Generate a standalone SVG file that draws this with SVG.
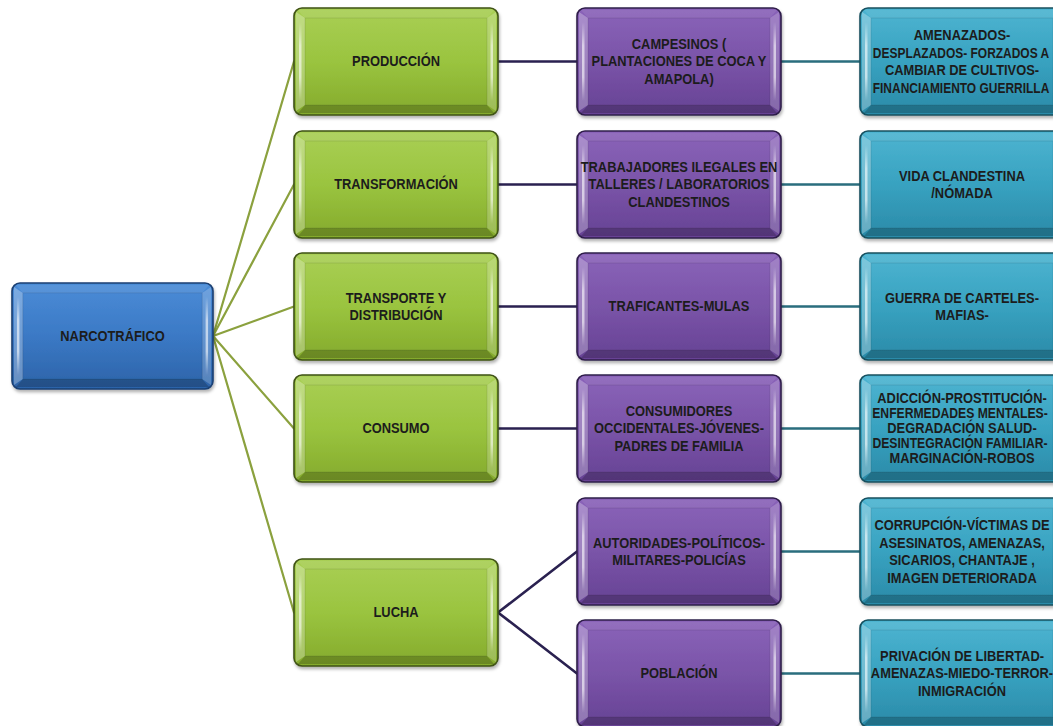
<svg xmlns="http://www.w3.org/2000/svg" xmlns:xlink="http://www.w3.org/1999/xlink" width="1053" height="726" viewBox="0 0 1053 726">
  <defs>
    <linearGradient id="gGreen" x1="0" y1="0" x2="0" y2="1">
      <stop offset="0" stop-color="#a9cf55"/>
      <stop offset="0.5" stop-color="#9ac43f"/>
      <stop offset="1" stop-color="#84aa2c"/>
    </linearGradient>
    <linearGradient id="gPurple" x1="0" y1="0" x2="0" y2="1">
      <stop offset="0" stop-color="#8a63b9"/>
      <stop offset="0.5" stop-color="#7a54a8"/>
      <stop offset="1" stop-color="#664294"/>
    </linearGradient>
    <linearGradient id="gCyan" x1="0" y1="0" x2="0" y2="1">
      <stop offset="0" stop-color="#4db4d1"/>
      <stop offset="0.5" stop-color="#38a2c0"/>
      <stop offset="1" stop-color="#2a8aa8"/>
    </linearGradient>
    <linearGradient id="gBlue" x1="0" y1="0" x2="0" y2="1">
      <stop offset="0" stop-color="#4b8cd7"/>
      <stop offset="0.5" stop-color="#3b79c5"/>
      <stop offset="1" stop-color="#2c63a8"/>
    </linearGradient>
    <linearGradient id="gHi" x1="0" y1="0" x2="0" y2="1">
      <stop offset="0" stop-color="#fff" stop-opacity="0"/>
      <stop offset="0.3" stop-color="#fff" stop-opacity="0.6"/>
      <stop offset="0.7" stop-color="#fff" stop-opacity="0.6"/>
      <stop offset="1" stop-color="#fff" stop-opacity="0"/>
    </linearGradient>
    <filter id="shadow" x="-10%" y="-10%" width="120%" height="130%">
      <feDropShadow dx="1" dy="2.5" stdDeviation="1.6" flood-color="#000" flood-opacity="0.3"/>
    </filter>
    <symbol id="bevel" viewBox="0 0 204 107" preserveAspectRatio="none">
      <path d="M2,4 L11,10 L11,97 L2,103 Z" fill="#fff" fill-opacity="0.28"/>
      <path d="M202,4 L193,10 L193,97 L202,103 Z" fill="#fff" fill-opacity="0.2"/>
      <path d="M4,2 L200,2 L193,10 L11,10 Z" fill="#fff" fill-opacity="0.08"/>
      <path d="M4,105 L200,105 L193,97 L11,97 Z" fill="#000" fill-opacity="0.2"/>
      <rect x="11" y="10" width="182" height="87" fill="none" stroke="#000" stroke-opacity="0.12" stroke-width="0.8"/>
      <rect x="5" y="14" width="2.5" height="79" fill="url(#gHi)"/>
      <rect x="196.5" y="14" width="2.5" height="79" fill="url(#gHi)"/>
    </symbol>
  </defs>
  <style>
    .box { stroke-width: 1.6; filter: url(#shadow); }
    .blue .box { fill: url(#gBlue); stroke: #1b3f72; }
    .green .box { fill: url(#gGreen); stroke: #3f5216; }
    .purple .box { fill: url(#gPurple); stroke: #2f1f4a; }
    .cyan .box { fill: url(#gCyan); stroke: #17505e; }
    .t { font-family: "Liberation Sans", Arial, sans-serif; font-weight: bold; font-size: 14px; fill: #1c1c1c; text-anchor: middle; }
    .c-root { stroke: #8ba13e; stroke-width: 2.2; }
    .c-mid { stroke: #2a2150; stroke-width: 2.6; }
    .c-end { stroke: #2a6e7e; stroke-width: 2.6; }
  </style>
  <rect width="1053" height="726" fill="#ffffff"/>

  <g id="connectors" fill="none" stroke-linecap="round">
    <line class="c-root" x1="213" y1="336" x2="294" y2="61.5"/>
    <line class="c-root" x1="213" y1="336" x2="294" y2="184.5"/>
    <line class="c-root" x1="213" y1="336" x2="294" y2="306.5"/>
    <line class="c-root" x1="213" y1="336" x2="294" y2="428.5"/>
    <line class="c-root" x1="213" y1="336" x2="294" y2="612.5"/>
    <line class="c-mid" x1="498" y1="61.5" x2="577" y2="61.5"/>
    <line class="c-mid" x1="498" y1="184.5" x2="577" y2="184.5"/>
    <line class="c-mid" x1="498" y1="306.5" x2="577" y2="306.5"/>
    <line class="c-mid" x1="498" y1="428.5" x2="577" y2="428.5"/>
    <line class="c-mid" x1="498" y1="612.5" x2="577" y2="551.5"/>
    <line class="c-mid" x1="498" y1="612.5" x2="577" y2="673.5"/>
    <line class="c-end" x1="781" y1="61.5" x2="860" y2="61.5"/>
    <line class="c-end" x1="781" y1="184.5" x2="860" y2="184.5"/>
    <line class="c-end" x1="781" y1="306.5" x2="860" y2="306.5"/>
    <line class="c-end" x1="781" y1="428.5" x2="860" y2="428.5"/>
    <line class="c-end" x1="781" y1="551.5" x2="860" y2="551.5"/>
    <line class="c-end" x1="781" y1="673.5" x2="860" y2="673.5"/>
  </g>

  <g id="n-narcotrafico" class="blue">
    <rect class="box" x="12" y="283" width="201" height="106" rx="8"/>
    <use href="#bevel" x="12" y="283" width="201" height="106"/>
    <text class="t" transform="translate(112.5,0) scale(0.92,1)"><tspan x="0" y="341">NARCOTRÁFICO</tspan></text>
  </g>

  <g id="n-produccion" class="green">
    <rect class="box" x="294" y="8" width="204" height="107" rx="8"/>
    <use href="#bevel" x="294" y="8" width="204" height="107"/>
    <text class="t" transform="translate(396,0) scale(0.92,1)"><tspan x="0" y="66.5">PRODUCCIÓN</tspan></text>
  </g>
  <g id="n-transformacion" class="green">
    <rect class="box" x="294" y="131" width="204" height="107" rx="8"/>
    <use href="#bevel" x="294" y="131" width="204" height="107"/>
    <text class="t" transform="translate(396,0) scale(0.92,1)"><tspan x="0" y="189.5">TRANSFORMACIÓN</tspan></text>
  </g>
  <g id="n-transporte" class="green">
    <rect class="box" x="294" y="253" width="204" height="107" rx="8"/>
    <use href="#bevel" x="294" y="253" width="204" height="107"/>
    <text class="t" transform="translate(396,0) scale(0.92,1)"><tspan x="0" y="302.75">TRANSPORTE Y</tspan><tspan x="0" y="320.25">DISTRIBUCIÓN</tspan></text>
  </g>
  <g id="n-consumo" class="green">
    <rect class="box" x="294" y="375" width="204" height="107" rx="8"/>
    <use href="#bevel" x="294" y="375" width="204" height="107"/>
    <text class="t" transform="translate(396,0) scale(0.92,1)"><tspan x="0" y="433.5">CONSUMO</tspan></text>
  </g>
  <g id="n-lucha" class="green">
    <rect class="box" x="294" y="559" width="204" height="107" rx="8"/>
    <use href="#bevel" x="294" y="559" width="204" height="107"/>
    <text class="t" transform="translate(396,0) scale(0.92,1)"><tspan x="0" y="617.5">LUCHA</tspan></text>
  </g>

  <g id="n-campesinos" class="purple">
    <rect class="box" x="577" y="8" width="204" height="107" rx="8"/>
    <use href="#bevel" x="577" y="8" width="204" height="107"/>
    <text class="t" transform="translate(679,0) scale(0.92,1)"><tspan x="0" y="49">CAMPESINOS (</tspan><tspan x="0" y="66.5">PLANTACIONES  DE COCA Y</tspan><tspan x="0" y="84">AMAPOLA)</tspan></text>
  </g>
  <g id="n-trabajadores" class="purple">
    <rect class="box" x="577" y="131" width="204" height="107" rx="8"/>
    <use href="#bevel" x="577" y="131" width="204" height="107"/>
    <text class="t" transform="translate(679,0) scale(0.92,1)"><tspan x="0" y="172">TRABAJADORES ILEGALES EN</tspan><tspan x="0" y="189.5">TALLERES / LABORATORIOS</tspan><tspan x="0" y="207">CLANDESTINOS</tspan></text>
  </g>
  <g id="n-traficantes" class="purple">
    <rect class="box" x="577" y="253" width="204" height="107" rx="8"/>
    <use href="#bevel" x="577" y="253" width="204" height="107"/>
    <text class="t" transform="translate(679,0) scale(0.92,1)"><tspan x="0" y="311.5">TRAFICANTES-MULAS</tspan></text>
  </g>
  <g id="n-consumidores" class="purple">
    <rect class="box" x="577" y="375" width="204" height="107" rx="8"/>
    <use href="#bevel" x="577" y="375" width="204" height="107"/>
    <text class="t" transform="translate(679,0) scale(0.92,1)"><tspan x="0" y="416">CONSUMIDORES</tspan><tspan x="0" y="433.5">OCCIDENTALES-JÓVENES-</tspan><tspan x="0" y="451">PADRES DE FAMILIA</tspan></text>
  </g>
  <g id="n-autoridades" class="purple">
    <rect class="box" x="577" y="498" width="204" height="107" rx="8"/>
    <use href="#bevel" x="577" y="498" width="204" height="107"/>
    <text class="t" transform="translate(679,0) scale(0.92,1)"><tspan x="0" y="547.75">AUTORIDADES-POLÍTICOS-</tspan><tspan x="0" y="565.25">MILITARES-POLICÍAS</tspan></text>
  </g>
  <g id="n-poblacion" class="purple">
    <rect class="box" x="577" y="620" width="204" height="107" rx="8"/>
    <use href="#bevel" x="577" y="620" width="204" height="107"/>
    <text class="t" transform="translate(679,0) scale(0.92,1)"><tspan x="0" y="678.5">POBLACIÓN</tspan></text>
  </g>

  <g id="n-amenazados" class="cyan">
    <rect class="box" x="860" y="8" width="204" height="107" rx="8"/>
    <use href="#bevel" x="860" y="8" width="204" height="107"/>
    <text class="t" transform="translate(962,0) scale(0.92,1)"><tspan x="0" y="40.25">AMENAZADOS-</tspan><tspan x="0" y="75.25">CAMBIAR  DE CULTIVOS-</tspan></text>
    <text class="t" transform="translate(961,0) scale(0.855,1)"><tspan x="0" y="57.75">DESPLAZADOS- FORZADOS A</tspan><tspan x="0" y="92.75">FINANCIAMIENTO GUERRILLA</tspan></text>
  </g>
  <g id="n-vida" class="cyan">
    <rect class="box" x="860" y="131" width="204" height="107" rx="8"/>
    <use href="#bevel" x="860" y="131" width="204" height="107"/>
    <text class="t" transform="translate(962,0) scale(0.92,1)"><tspan x="0" y="180.75">VIDA CLANDESTINA</tspan><tspan x="0" y="198.25">/NÓMADA</tspan></text>
  </g>
  <g id="n-guerra" class="cyan">
    <rect class="box" x="860" y="253" width="204" height="107" rx="8"/>
    <use href="#bevel" x="860" y="253" width="204" height="107"/>
    <text class="t" transform="translate(962,0) scale(0.92,1)"><tspan x="0" y="302.75">GUERRA DE CARTELES-</tspan><tspan x="0" y="320.25">MAFIAS-</tspan></text>
  </g>
  <g id="n-adiccion" class="cyan">
    <rect class="box" x="860" y="375" width="204" height="107" rx="8"/>
    <use href="#bevel" x="860" y="375" width="204" height="107"/>
    <text class="t" transform="translate(962,0) scale(0.92,1)"><tspan x="0" y="403.5">ADICCIÓN-PROSTITUCIÓN-</tspan><tspan x="0" y="433.5">DEGRADACIÓN SALUD-</tspan><tspan x="0" y="463.5">MARGINACIÓN-ROBOS</tspan></text>
    <text class="t" transform="translate(960,0) scale(0.87,1)"><tspan x="0" y="418.5">ENFERMEDADES MENTALES-</tspan><tspan x="0" y="448.5">DESINTEGRACIÓN FAMILIAR-</tspan></text>
  </g>
  <g id="n-corrupcion" class="cyan">
    <rect class="box" x="860" y="498" width="204" height="107" rx="8"/>
    <use href="#bevel" x="860" y="498" width="204" height="107"/>
    <text class="t" transform="translate(962,0) scale(0.92,1)"><tspan x="0" y="530.25">CORRUPCIÓN-VÍCTIMAS DE</tspan><tspan x="0" y="547.75">ASESINATOS, AMENAZAS,</tspan><tspan x="0" y="565.25">SICARIOS, CHANTAJE ,</tspan><tspan x="0" y="582.75">IMAGEN DETERIORADA</tspan></text>
  </g>
  <g id="n-privacion" class="cyan">
    <rect class="box" x="860" y="620" width="204" height="107" rx="8"/>
    <use href="#bevel" x="860" y="620" width="204" height="107"/>
    <text class="t" transform="translate(962,0) scale(0.92,1)"><tspan x="0" y="661">PRIVACIÓN  DE LIBERTAD-</tspan><tspan x="0" y="678.5">AMENAZAS-MIEDO-TERROR-</tspan><tspan x="0" y="696">INMIGRACIÓN</tspan></text>
  </g>
</svg>
